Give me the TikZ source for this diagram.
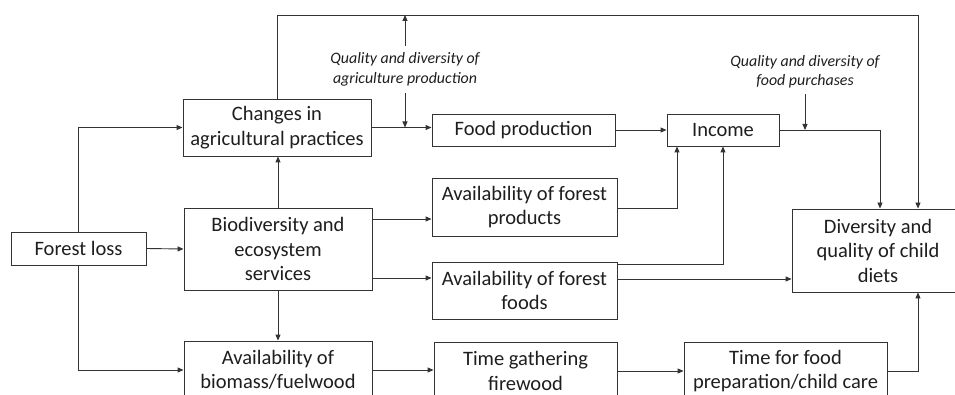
\documentclass[tikz,border=0pt]{standalone}
\usepackage{fontspec}
\setmainfont{Carlito}
\usetikzlibrary{arrows.meta,calc}
\definecolor{txt}{HTML}{1E1E1E}
\definecolor{ln}{HTML}{333333}
\tikzset{
  box/.style={draw=ln, line width=0.9pt, inner sep=0pt, align=center, text=txt,
    font=\fontsize{20.5}{24.5}\selectfont},
  note/.style={inner sep=0pt, align=center, text=txt,
    font=\fontsize{15.9}{19.5}\selectfont\itshape},
  conn/.style={draw=ln, line width=0.9pt, -{Triangle[length=6pt,width=5pt]}},
  plain/.style={draw=ln, line width=0.9pt}
}
\begin{document}
\begin{tikzpicture}[x=1pt,y=-1pt]
\useasboundingbox (0,0) rectangle (955,395);
\clip (0,0) rectangle (955,395);
\fill[white] (0,0) rectangle (955,395);

\node[box, minimum width=135pt, minimum height=33pt] (fl) at (78.5,248.5) {Forest loss};
\node[box, minimum width=188pt, minimum height=57pt] (cap) at (277,127.5) {Changes in\\agricultural practices};
\node[box, minimum width=188pt, minimum height=82pt] (bio) at (278,249) {Biodiversity and\\ecosystem\\services};
\node[box, minimum width=188pt, minimum height=58pt] (bm) at (278,370) {Availability of\\biomass/fuelwood};
\node[box, minimum width=183pt, minimum height=32pt] (fp) at (523.5,130) {Food production};
\node[box, minimum width=112pt, minimum height=32pt] (inc) at (723,130) {Income};
\node[box, minimum width=185pt, minimum height=58pt] (afp) at (524.5,207) {Availability of forest\\products};
\node[box, minimum width=185pt, minimum height=57pt] (aff) at (524.5,290.5) {Availability of forest\\foods};
\node[box, minimum width=183pt, minimum height=58pt] (tgf) at (525.5,371) {Time gathering\\firewood};
\node[box, minimum width=203pt, minimum height=58pt] (tfp) at (785.5,371) {Time for food\\preparation/child care};
\node[box, minimum width=172pt, minimum height=83pt] (div) at (878,250.5) {Diversity and\\quality of child\\diets};

\node[note, minimum height=47pt] (a1) at (405,69.5) {Quality and diversity of\\agriculture production};
\node[note, minimum height=44pt] (a2) at (805,72) {Quality and diversity of\\food purchases};

\coordinate (top) at (918,15);
\coordinate (y219) at (0,219);
\coordinate (y278) at (0,278);
\coordinate (y279) at (0,279);
\coordinate (y264) at (0,264);
\coordinate (y208) at (0,208);
\coordinate (x677) at (677,0);
\coordinate (x880) at (880,0);

% forest loss links
\draw[conn] (fl.east) -- (bio.west);
\draw[conn] (fl.north) |- (cap.west);
\draw[conn] (fl.south) |- (bm.west);

% biodiversity links
\draw[conn] (bio.north) -- (bio.north |- cap.south);
\draw[conn] (bio.south) -- (bm.north);
\draw[conn] (bio.east |- y219) -- (afp.west |- y219);
\draw[conn] (bio.east |- y278) -- (aff.west |- y278);

% bottom chain
\draw[conn] (bm.east) -- (bm.east -| tgf.west);
\draw[conn] (tgf.east) -- (tfp.west);
\draw[conn] (tfp.east) -| (top |- div.south);

% forest foods / products
\draw[conn] (aff.east |- y279) -- (div.west |- y279);
\draw[conn] (aff.east |- y264) -| (inc.south);
\draw[conn] (afp.east |- y208) -| (x677 |- inc.south);

% agriculture / food
\draw[conn] (cap.east) -- (cap.east -| fp.west);
\draw[conn] (fp.east) -- (inc.west);
\draw[conn] (a1.south) -- (a1.south |- cap.east);
\draw[conn] (a1.north) -- (a1.north |- top);
\draw[conn] (cap.north) |- (top) -- (top |- div.north);

% income
\draw[conn] (inc.east) -| (x880 |- div.north);
\draw[conn] (a2.south) -- (a2.south |- inc.east);
\end{tikzpicture}
\end{document}
